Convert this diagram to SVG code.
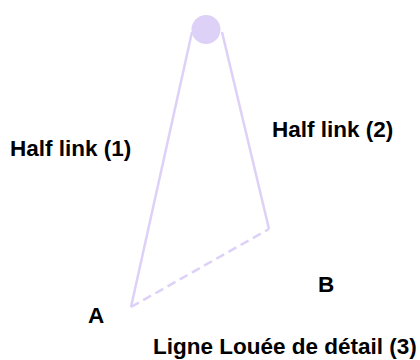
<svg xmlns="http://www.w3.org/2000/svg" width="420" height="360" viewBox="0 0 420 360">
<style>
.lbl{font-family:"Liberation Sans",Arial,sans-serif;font-weight:bold;font-size:22.5px;fill:#000}
.ln{stroke:#ddd1f8;stroke-width:2.5;fill:none}
.dash{stroke-dasharray:9 5}
</style>
<rect width="420" height="360" fill="#fff"/>
<g id="connectors">
<line class="ln" x1="192" y1="32" x2="131" y2="307"/>
<line class="ln" x1="222" y1="32" x2="269" y2="229"/>
<line class="ln dash" x1="131" y1="307" x2="269" y2="229"/>
</g>
<g id="top"><circle cx="206" cy="29.5" r="14.5" fill="#ddd1f8"/></g>
<g id="half1"><text class="lbl" x="10" y="156">Half link (1)</text></g>
<g id="half2"><text class="lbl" x="272" y="137">Half link (2)</text></g>
<g id="A"><text class="lbl" x="88" y="323">A</text></g>
<g id="B"><text class="lbl" x="318" y="292">B</text></g>
<g id="line3"><text class="lbl" x="153" y="354">Ligne Louée de détail (3)</text></g>
</svg>
